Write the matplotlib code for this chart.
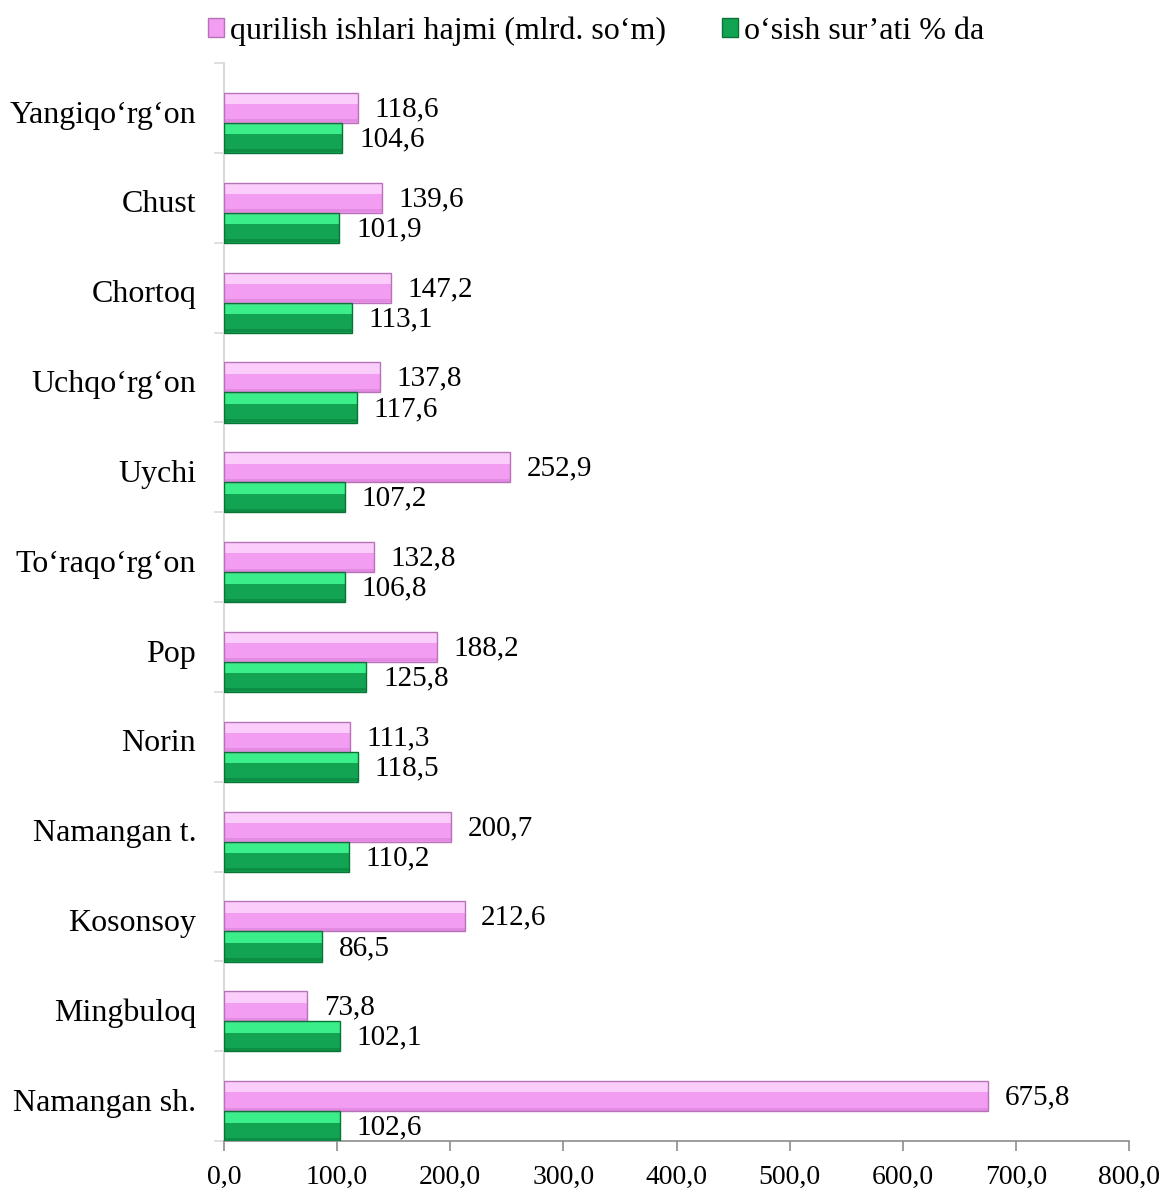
import matplotlib.pyplot as plt
import numpy as np
from matplotlib.patches import Patch

plt.rcParams['font.family'] = ['Liberation Serif', 'DejaVu Serif']

# data, bottom to top
regions = ['Namangan sh.', 'Mingbuloq', 'Kosonsoy', 'Namangan t.', 'Norin', 'Pop',
           'To‘raqo‘rg‘on', 'Uychi', 'Uchqo‘rg‘on', 'Chortoq', 'Chust', 'Yangiqo‘rg‘on']
volume = [675.8, 73.8, 212.6, 200.7, 111.3, 188.2, 132.8, 252.9, 137.8, 147.2, 139.6, 118.6]
growth = [102.6, 102.1, 86.5, 110.2, 118.5, 125.8, 106.8, 107.2, 117.6, 113.1, 101.9, 104.6]
series_names = ['qurilish ishlari hajmi (mlrd. so‘m)', 'o‘sish sur’ati % da']
xticks = np.arange(0, 801, 100)

pink, pink_hi, pink_lo, pink_edge = '#f29cf2', '#fbcdfb', '#e38ae3', '#b873b8'
green, green_hi, green_lo, green_edge = '#12a452', '#3aee8a', '#0c8e45', '#0a7436'

fig = plt.figure(figsize=(11.65, 11.9), dpi=100)
ax = fig.add_axes([224 / 1165, 49 / 1190, (1129 - 224) / 1165, (1141 - 63) / 1190])

y = np.arange(len(regions))
h = 0.335


def bevel_bar(yc, vals, base, hi, lo, edge):
    ax.barh(yc, vals, height=h, color=base, linewidth=0, zorder=3)
    ax.barh(yc + h * 0.30, vals, height=h * 0.36, color=hi, linewidth=0, zorder=4)
    ax.barh(yc - h * 0.43, vals, height=h * 0.10, color=lo, linewidth=0, zorder=4)
    ax.barh(yc, vals, height=h, color='none', edgecolor=edge, linewidth=1.0, zorder=5)


pink_y = y + 0.5
green_y = y + 0.5 - h
bevel_bar(pink_y, volume, pink, pink_hi, pink_lo, pink_edge)
bevel_bar(green_y, growth, green, green_hi, green_lo, green_edge)

fmt = lambda v: f'{v:.1f}'.replace('.', ',')
for yy, v in zip(pink_y, volume):
    ax.annotate(fmt(v), (v, yy), xytext=(12, -1), textcoords='offset points',
                va='center', ha='left', fontsize=21)
for yy, v in zip(green_y, growth):
    ax.annotate(fmt(v), (v, yy), xytext=(12, -1), textcoords='offset points',
                va='center', ha='left', fontsize=21)

ax.set_xlim(0, 800)
ax.set_ylim(0, len(regions))
ax.set_xticks(xticks)
ax.set_xticklabels([fmt(t) for t in xticks], fontsize=20)
ax.set_yticks(y + 0.46)
ax.set_yticklabels(regions, fontsize=23)
ax.set_yticks(np.arange(len(regions) + 1), minor=True)
ax.tick_params(axis='y', which='major', length=0, pad=20)
ax.tick_params(axis='y', which='minor', length=7, color='#d9d9d9', width=1.2)
ax.tick_params(axis='x', length=7, color='#8c8c8c', width=1.2, pad=10)

for s in ['top', 'right']:
    ax.spines[s].set_visible(False)
ax.spines['left'].set_color('#d9d9d9')
ax.spines['left'].set_linewidth(1.5)
ax.spines['bottom'].set_color('#8c8c8c')
ax.spines['bottom'].set_linewidth(1.2)

handles = [Patch(facecolor=pink, edgecolor=pink_edge), Patch(facecolor=green, edgecolor=green_edge)]
fig.legend(handles, series_names, loc='center', bbox_to_anchor=(596 / 1165, 1 - 31 / 1190),
           ncol=2, frameon=False, fontsize=23, handlelength=0.5, handleheight=0.5,
           handletextpad=0.2, columnspacing=1.75)

fig.savefig('out.png', dpi=100)
